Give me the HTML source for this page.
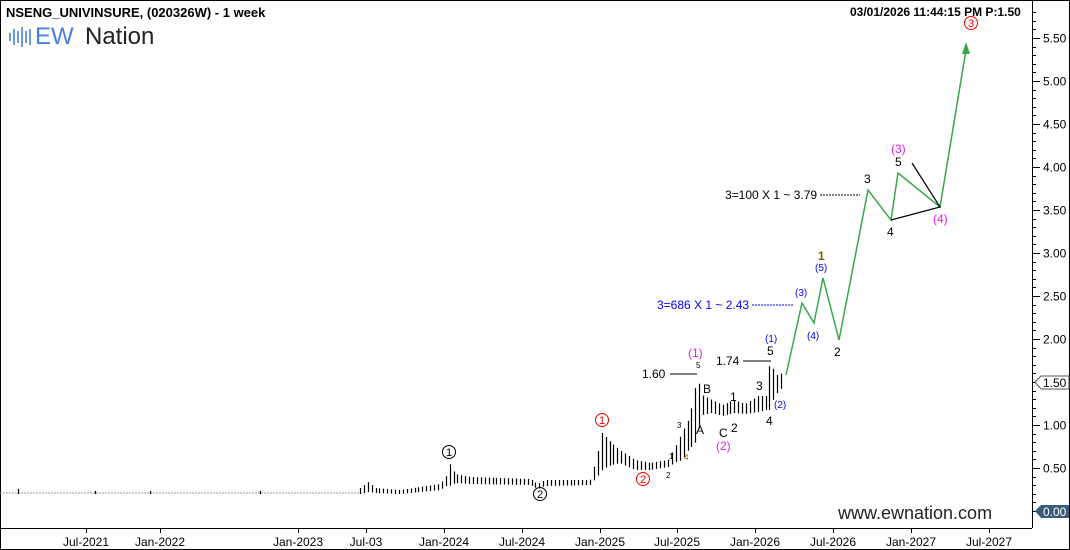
<!DOCTYPE html>
<html><head><meta charset="utf-8"><style>
html,body{margin:0;padding:0;background:#fff;}
svg{display:block;font-family:"Liberation Sans",Arial,sans-serif;}
</style></head><body>
<svg id="s" width="1070" height="550" viewBox="0 0 1070 550">
<rect x="0.5" y="0.5" width="1069" height="549" fill="#fff" stroke="#000"/>
<line x1="1032.5" y1="0" x2="1032.5" y2="528" stroke="#000"/>
<line x1="0" y1="528.5" x2="1032" y2="528.5" stroke="#000"/>
<text x="6" y="17" font-size="13" font-weight="bold">NSENG_UNIVINSURE, (020326W) - 1 week</text>
<text x="850" y="16" font-size="12" font-weight="bold">03/01/2026 11:44:15 PM  P:1.50</text>
<g stroke="#4a7fe0" stroke-width="1.6">
<line x1="10" y1="33" x2="10" y2="41"/><line x1="14" y1="29" x2="14" y2="45"/><line x1="18" y1="31" x2="18" y2="43"/><line x1="22" y1="27" x2="22" y2="47"/><line x1="26" y1="31" x2="26" y2="43"/><line x1="30" y1="29" x2="30" y2="45"/></g>
<text x="35" y="44" font-size="24" fill="#4a7fe0">EW</text>
<text x="85" y="44" font-size="24" fill="#222">Nation</text>
<line x1="0" y1="493" x2="360" y2="493" stroke="#999" stroke-dasharray="2,1"/>
<g id="bars" stroke="#000" stroke-width="1.2"></g>
<polyline points="786,375 802,303 814,323 823,278 839,340 868,190 891,220 898,173 940,207 966,50" fill="none" stroke="#3aa64a" stroke-width="1.5"/>
<polygon points="966,42 962,54 970,54" fill="#3aa64a"/>
<polyline points="891,220 940,207 912,163" fill="none" stroke="#000" stroke-width="1.2"/>
<line x1="670" y1="374" x2="697" y2="374" stroke="#000"/>
<line x1="743" y1="361" x2="771" y2="361" stroke="#000"/>
<line x1="752" y1="305" x2="793" y2="305" stroke="#00f" stroke-dasharray="2,1"/>
<line x1="820" y1="195" x2="860" y2="195" stroke="#000" stroke-dasharray="2,1"/>
<g font-size="12">
<text x="642" y="378">1.60</text><text x="716" y="365">1.74</text>
<text x="657" y="309" fill="#00f">3=686 X 1 ~ 2.43</text>
<text x="725" y="199">3=100 X 1 ~ 3.79</text>
<text x="703" y="393">B</text><text x="696" y="434">A</text><text x="719" y="437">C</text><text x="731" y="432">2</text>
<text x="730" y="401" fill="#000">1</text><text x="756" y="390">3</text><text x="766" y="425">4</text><text x="767" y="355">5</text>
<text x="834" y="356">2</text><text x="864" y="183">3</text><text x="887" y="236">4</text><text x="895" y="166">5</text><text x="818" y="260" fill="#8a5a00" font-weight="bold">1</text>
<text x="716" y="450" fill="#e020e0">(2)</text><text x="688" y="357" fill="#e020e0">(1)</text>
<text x="891" y="153" fill="#e020e0">(3)</text><text x="933" y="223" fill="#e020e0">(4)</text>
</g>
<g font-size="10" fill="#00f">
<text x="765" y="342">(1)</text><text x="774" y="408">(2)</text><text x="795" y="296">(3)</text><text x="807" y="339">(4)</text><text x="815" y="271">(5)</text>
</g>
<g font-size="8"><text x="696" y="368">5</text><text x="677" y="428">3</text><text x="669" y="459">1</text><text x="666" y="478">2</text><text x="684" y="460" fill="#a06000">4</text></g>
<g fill="none" stroke-width="1">
<circle cx="449" cy="452" r="6.5" stroke="#000"/><circle cx="540" cy="494" r="6.5" stroke="#000"/>
<circle cx="602" cy="420" r="6.5" stroke="#e00"/><circle cx="643" cy="479" r="6.5" stroke="#e00"/>
<circle cx="971" cy="23" r="6.5" stroke="#e00"/></g>
<g font-size="11" text-anchor="middle">
<text x="449" y="456">1</text><text x="540" y="498">2</text>
<text x="602" y="424" fill="#e00">1</text><text x="643" y="483" fill="#e00">2</text><text x="971" y="27" fill="#e00">3</text></g>
<text x="838" y="519" font-size="18" fill="#222">www.ewnation.com</text>
<g id="ax" font-size="12"></g>
<polygon points="1035,382 1041,376 1069,376 1069,389 1041,389" fill="#fff" stroke="#555"/>
<text x="1043" y="387" font-size="12">1.50</text>
<polygon points="1035,511 1041,505 1069,505 1069,518 1041,518" fill="#3b5b7a"/>
<text x="1043" y="516" font-size="12" fill="#fff">0.00</text>
</svg>
<script>
var ns="http://www.w3.org/2000/svg",ax=document.getElementById("ax"),b=document.getElementById("bars");
function el(t,a,p,tx){var e=document.createElementNS(ns,t);for(var k in a)e.setAttribute(k,a[k]);if(tx)e.textContent=tx;p.appendChild(e);}
function Y(v){return 468-(v-0.5)*86;}
for(var i=0;i<=60;i++){var v=i/10,y=Math.round(Y(v))+0.5;if(y<5||y>527)continue;var big=i%5==0;
el("line",{x1:1032,y1:y,x2:big?1040:1036,y2:y,stroke:"#000"},ax);
if(big&&i>0&&i!=15)el("text",{x:1043,y:y+4},ax,v.toFixed(2));}
var xl=[[86,"Jul-2021"],[160,"Jan-2022"],[298,"Jan-2023"],[366,"Jul-03"],[444,"Jan-2024"],[522,"Jul-2024"],[600,"Jan-2025"],[677,"Jul-2025"],[755,"Jan-2026"],[833,"Jul-2026"],[911,"Jan-2027"],[989,"Jul-2027"]];
xl.forEach(function(p){el("line",{x1:p[0]+.5,y1:528,x2:p[0]+.5,y2:533,stroke:"#000"},ax);el("text",{x:p[0],y:546,"text-anchor":"middle"},ax,p[1]);});
var k=[[360,488,494],[368,482,492],[375,488,493],[400,490,494],[420,487,492],[440,484,490],[446,476,486],[449,463,486],[455,474,483],[470,477,484],[530,479,485],[538,484,489],[545,480,486],[590,480,485],[596,460,478],[602,432,470],[608,440,466],[620,450,463],[635,460,470],[650,463,470],[668,460,467],[676,445,462],[682,432,460],[688,420,450],[694,400,445],[697,374,440],[702,395,415],[712,400,413],[722,405,416],[734,400,413],[745,404,414],[758,396,412],[766,396,410],[770,362,410],[774,370,398],[778,376,392],[782,373,388]];
function interp(x,i){for(var j=0;j<k.length-1;j++)if(x>=k[j][0]&&x<=k[j+1][0]){var t=(x-k[j][0])/(k[j+1][0]-k[j][0]);return k[j][i]+t*(k[j+1][i]-k[j][i]);}return k[k.length-1][i];}
for(var x=360;x<=782;x+=3.9){var xx=Math.round(x)+.5;el("line",{x1:xx,y1:interp(x,1),x2:xx,y2:interp(x,2)},b);}
[[18,489,494],[95,491,494],[150,491,494],[260,491,494]].forEach(function(p){el("line",{x1:p[0]+.5,y1:p[1],x2:p[0]+.5,y2:p[2],stroke:"#000"},b);});
</script>
</body></html>
